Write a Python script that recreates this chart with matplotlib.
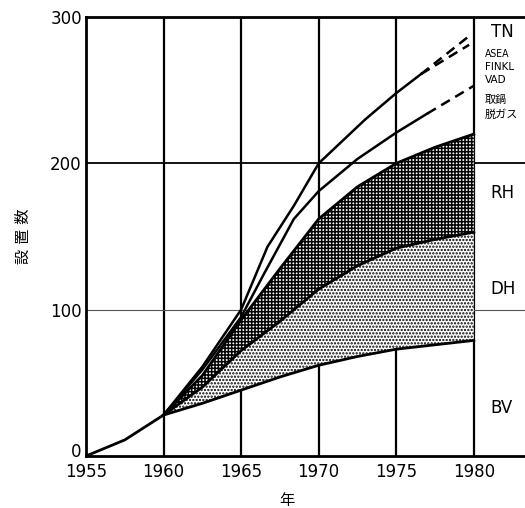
import matplotlib
matplotlib.use('Agg')
import matplotlib.pyplot as plt
import matplotlib.transforms as mtransforms
import numpy as np

plt.rcParams['font.family'] = ['DejaVu Sans', 'Noto Sans CJK JP']
plt.rcParams['hatch.linewidth'] = 1.1

# common trunk before the curves split
base_x = [1955, 1957.5, 1960]
base_y = [0, 11, 28]

# filled bands (1960-1980)
band_x = [1960, 1962.5, 1965, 1967.5, 1970, 1972.5, 1975, 1977.5, 1980]
bv_top = [28, 36, 45, 54, 62, 68, 73, 76, 79]
dh_top = [28, 47, 72, 92, 114, 130, 142, 148, 153]
rh_top = [28, 55, 93, 128, 162, 184, 200, 211, 220]

# upper line (TN / ASEA-FINKL)
up_x = [1960, 1962.5, 1965, 1966.7, 1968.4, 1970, 1971, 1973, 1975, 1976.6]
up_y = [28, 61, 100, 143, 171, 200, 210, 230, 248, 261]
tn_end = (1979.7, 287)
asea_end = (1979.7, 281)

# lower line (VAD / ladle degassing)
lo_x = [1960, 1962.5, 1965, 1966.5, 1968.4, 1970, 1972.5, 1975, 1977]
lo_y = [28, 59, 95, 125, 162, 181, 203, 221, 234]
vad_end = (1980, 253)

fig = plt.figure(figsize=(5.25, 5.08), dpi=100)
ax = fig.add_axes([86/525, 52/508, 439/525, 439/508])

# grid
for yr in [1960, 1965, 1970, 1975, 1980]:
    ax.axvline(yr, color='black', lw=1.6, zorder=1)
ax.axhline(200, color='black', lw=1.3, zorder=1)
ax.axhline(100, color='#555555', lw=0.8, zorder=1)

# bands
ax.fill_between(band_x, bv_top, dh_top, facecolor='white', edgecolor='black',
                hatch='.....', lw=0, zorder=2)
ax.fill_between(band_x, dh_top, rh_top, facecolor='white', edgecolor='black',
                hatch='+++++', lw=0, zorder=2)

ax.plot(base_x, base_y, color='black', lw=2, zorder=3)
ax.plot(band_x, bv_top, color='black', lw=2, zorder=3)
ax.plot(band_x, dh_top, color='black', lw=2, zorder=3)
ax.plot(band_x, rh_top, color='black', lw=2, zorder=3)

ax.plot(up_x, up_y, color='black', lw=1.8, zorder=3)
for end in [tn_end, asea_end]:
    ax.plot([up_x[-1], end[0]], [up_y[-1], end[1]], color='black', lw=1.8,
            ls=(0, (4, 2.5)), zorder=3)
ax.plot(lo_x, lo_y, color='black', lw=1.8, zorder=3)
ax.plot([lo_x[-1], vad_end[0]], [lo_y[-1], vad_end[1]], color='black', lw=1.8,
        ls=(0, (4, 2.5)), zorder=3)

ax.set_xlim(1955, 1983.3)
ax.set_ylim(0, 300)
ax.set_xticks([1955, 1960, 1965, 1970, 1975, 1980])
ax.set_yticks([0, 100, 200, 300])
ax.tick_params(length=0, labelsize=12)
ax.tick_params(axis='x', pad=5)
ax.tick_params(axis='y', pad=3)
# lift the "0" so it clears "1955"
lbl0 = ax.get_yticklabels()[0]
lbl0.set_transform(lbl0.get_transform() +
                   mtransforms.ScaledTranslation(0, 6/100, fig.dpi_scale_trans))
for s in ['left', 'bottom', 'top']:
    ax.spines[s].set_linewidth(2)
ax.spines['right'].set_visible(False)

# right-hand labels
ax.text(1981.1, 290, 'TN', fontsize=12, va='center')
ax.text(1980.7, 275, 'ASEA', fontsize=7.5, va='center', fontstretch='condensed')
ax.text(1980.7, 266, 'FINKL', fontsize=7.5, va='center')
ax.text(1980.7, 257, 'VAD', fontsize=7.5, va='center')
ax.text(1980.7, 243, '取鍋', fontsize=8, va='center')
ax.text(1980.7, 233, '脱ガス', fontsize=8, va='center')
ax.text(1981.1, 180, 'RH', fontsize=12, va='center')
ax.text(1981.1, 114, 'DH', fontsize=12, va='center')
ax.text(1981.1, 33, 'BV', fontsize=12, va='center')

ax.set_ylabel('設 置 数', fontsize=11)
ax.yaxis.set_label_coords(-0.125, 0.5)
ax.set_xlabel('年', fontsize=11)
ax.xaxis.set_label_coords((287 - 86) / 439, -0.085)

plt.savefig('out.png', dpi=100)
